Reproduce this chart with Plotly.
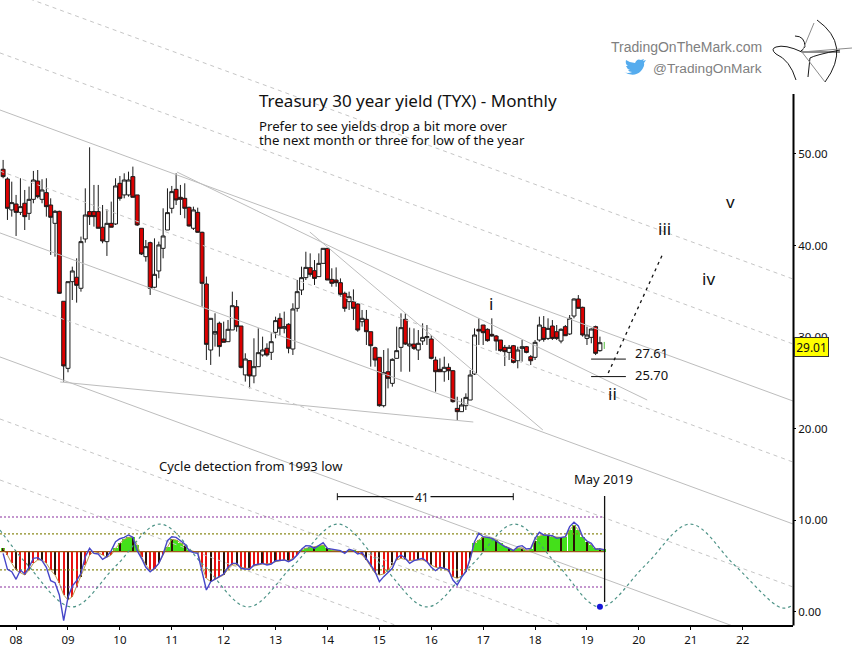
import plotly.graph_objects as go

# monthly candles, Oct 2007 - Apr 2019
opens = [48.33,47.27,43.89,44.54,43.63,44.62,43.52,45.05,47.05,45.05,45.78,44.43,42.43,43.74,33.92,26.60,36.06,36.54,35.34,40.72,
	43.71,43.71,43.71,42.00,40.43,42.43,42.36,46.80,45.53,45.53,47.53,45.53,41.89,38.79,40.32,35.45,37.23,39.70,41.70,44.07,
	46.14,45.27,45.16,44.18,41.89,43.63,41.45,35.81,28.60,30.35,31.52,29.80,29.51,30.79,33.33,31.22,25.88,27.44,25.77,26.78,
	28.06,28.79,28.35,30.53,32.06,30.97,31.41,28.71,33.15,35.15,36.50,37.59,37.26,36.61,38.06,39.70,36.31,36.24,35.95,34.79,
	33.88,33.88,33.62,31.69,31.95,30.60,28.85,27.80,22.52,26.23,24.96,27.69,28.89,31.95,29.04,29.25,28.60,29.58,29.95,29.80,
	27.51,26.49,26.23,26.71,26.34,22.23,21.87,22.52,23.14,25.98,30.86,31.33,30.86,30.31,30.13,29.69,28.89,28.34,29.07,27.43,
	28.78,28.96,27.87,27.80,29.69,31.07,29.87,31.22,30.60,29.58,31.15,30.35,32.31,34.17,33.26,29.87,29.98,31.15,28.53]
highs = [49.35,47.45,46.98,45.53,47.35,46.07,46.44,48.15,48.25,47.24,47.35,45.16,43.89,43.81,33.92,36.06,37.70,38.61,40.98,46.25,
	50.73,46.62,46.62,44.43,43.96,44.80,47.35,47.60,47.89,48.07,48.62,45.53,41.89,40.61,40.43,40.79,40.43,44.07,46.25,46.51,
	47.89,46.62,46.80,44.25,44.25,44.14,41.52,36.61,32.06,32.61,31.70,31.70,31.88,34.97,34.06,31.22,28.24,27.51,29.88,30.97,
	30.06,29.33,30.42,32.24,32.61,32.79,31.52,33.70,36.25,37.70,39.33,39.15,38.42,39.15,39.70,39.70,37.52,37.62,36.42,34.97,
	34.97,35.22,33.69,32.97,32.97,30.60,28.96,27.80,28.60,28.78,27.69,31.15,32.60,32.60,31.04,30.96,30.78,31.51,31.33,30.24,
	27.87,27.69,27.87,27.14,26.42,23.50,23.32,23.87,26.42,30.96,32.06,31.33,30.96,32.06,30.24,29.69,29.15,29.15,29.15,28.96,
	29.69,29.04,28.05,29.69,32.24,32.31,32.06,31.87,31.33,30.96,31.33,32.42,34.24,34.60,33.33,31.15,30.96,31.26,30.06]
lows = [47.35,42.80,43.16,41.05,43.34,41.70,42.80,44.62,45.16,44.62,43.16,38.98,38.79,34.72,25.15,26.17,34.06,33.77,34.97,40.32,
	42.25,42.07,41.89,40.25,38.87,42.00,42.25,44.90,45.16,45.34,45.27,42.14,38.98,38.25,34.61,35.34,36.43,38.61,41.70,43.52,
	44.43,43.34,42.98,42.07,41.70,41.41,33.33,27.51,26.97,28.97,27.88,29.44,29.51,30.79,30.61,26.60,25.15,24.42,24.97,26.78,
	27.88,27.88,27.51,29.88,30.24,30.42,28.24,28.06,32.79,34.60,36.24,36.61,35.70,36.61,38.06,36.24,35.51,35.51,34.42,32.78,
	32.97,31.87,30.60,31.15,29.15,26.78,26.78,22.41,22.34,24.41,24.60,27.69,26.23,29.15,26.23,28.60,27.51,29.15,29.15,27.58,
	24.05,26.23,25.14,25.32,22.85,20.96,21.87,22.05,23.14,25.87,29.15,29.15,29.51,30.06,28.53,28.42,26.85,27.51,27.14,26.60,
	27.33,28.24,26.96,27.51,29.51,29.51,29.69,29.69,29.69,29.33,30.13,30.24,32.06,33.15,30.06,29.15,29.33,28.05,28.42]
closes = [47.53,44.07,44.69,43.63,44.25,43.16,45.05,47.16,45.34,46.07,44.25,43.09,43.74,34.79,26.86,36.06,37.23,35.66,40.43,43.34,
	43.16,43.16,41.89,40.50,42.43,42.00,46.51,45.16,47.16,47.16,45.27,42.25,39.08,39.88,35.34,36.86,40.07,41.05,43.60,45.89,
	44.98,45.05,44.07,42.14,43.89,41.45,35.88,29.22,32.06,30.61,28.97,29.44,30.86,33.44,31.15,26.71,27.62,25.77,26.78,28.31,
	28.60,28.06,29.51,31.81,30.97,31.15,28.79,33.08,34.97,36.50,37.62,36.86,36.42,38.06,39.70,36.24,35.88,35.95,34.68,33.15,
	34.42,33.15,30.78,32.06,30.60,29.07,27.51,22.52,26.12,25.51,27.58,28.53,31.04,29.25,29.25,28.78,29.33,29.98,30.06,27.69,
	26.23,26.23,26.71,26.34,22.96,21.87,22.60,23.43,25.87,30.24,30.67,30.49,29.62,30.13,29.58,28.53,28.42,28.89,27.25,28.60,
	28.96,28.34,27.43,29.44,31.33,29.76,30.96,29.87,29.87,30.86,30.16,32.06,34.17,33.15,30.24,30.24,30.89,28.24,29.40]

# oscillator pane (same scale as the price axis), one value a month up to May 2019
osc_line = [6.40,4.66,4.40,3.57,4.58,4.15,4.88,5.86,5.93,5.60,4.88,3.42,3.20,1.86,-0.95,1.60,2.84,3.42,4.22,6.04,
	6.95,6.40,6.33,5.75,6.04,6.70,7.68,8.00,8.15,8.41,8.15,6.70,5.86,4.88,4.40,4.77,5.31,6.33,7.79,8.22,
	8.15,7.79,7.42,6.70,6.48,6.40,4.22,2.40,3.31,3.57,3.86,4.15,4.88,5.31,5.31,4.77,4.69,4.66,5.13,5.24,
	5.31,5.13,5.24,5.60,5.68,5.68,5.49,5.75,6.22,6.84,7.24,7.20,6.95,7.31,7.57,6.95,6.88,6.84,6.70,6.40,
	6.84,6.70,6.33,6.48,5.86,5.13,4.40,3.31,3.86,4.29,4.77,5.86,6.22,5.86,5.31,5.60,5.75,5.86,5.49,4.88,
	4.51,4.88,4.77,4.58,3.49,2.95,3.78,4.40,5.86,7.68,8.59,8.22,8.15,8.04,7.75,7.42,7.13,6.95,6.70,7.13,
	7.24,6.88,6.95,8.04,8.70,8.41,8.41,8.33,8.04,8.15,8.22,9.32,9.79,9.39,8.22,7.75,7.50,6.84,6.91,6.77]
osc_hist = [6.95,6.22,5.31,4.58,4.29,4.04,4.58,5.31,5.68,5.68,5.31,4.58,4.04,3.13,1.86,1.31,1.67,2.77,3.86,5.13,
	6.22,6.59,6.48,6.22,5.97,6.22,6.95,7.50,7.93,8.15,8.15,7.31,6.04,5.13,4.58,4.66,5.31,6.22,7.13,7.93,
	7.86,7.50,7.24,6.77,6.59,6.48,4.95,3.67,3.31,3.57,3.86,4.04,4.66,5.13,5.13,4.88,4.77,4.77,5.02,5.13,
	5.24,5.24,5.31,5.49,5.60,5.68,5.60,5.86,6.22,6.77,6.95,7.06,7.13,7.24,7.31,6.95,6.77,6.70,6.59,6.48,
	6.66,6.66,6.48,6.22,5.68,4.88,4.22,4.04,4.15,4.58,5.13,5.68,5.86,5.75,5.60,5.68,5.68,5.68,5.49,5.13,
	4.88,4.77,4.77,4.40,3.86,3.67,3.93,4.40,5.68,7.50,7.86,8.15,8.15,8.04,7.86,7.50,7.20,7.02,6.77,6.95,
	7.02,6.70,6.84,7.79,8.30,8.41,8.41,8.22,8.15,8.15,8.15,8.95,9.50,8.95,8.15,7.68,7.31,6.95,6.84,6.84]
hist_zero = 6.59
band_values = [10.37, 8.52, 4.59, 2.73]
band_colors = ["#8a2f9e", "#8a8a1e", "#8a8a1e", "#8a2f9e"]
cycle_x = [2007.69,2008.23,2009.08,2009.93,2010.77,2011.62,2012.47,2013.34,2014.20,2015.05,2015.92,2016.77,2017.61,2018.44,2019.25,2020.12,2020.99,2021.85,2022.75,2022.97]
cycle_y = [8.95,5.08,0.55,5.08,9.60,5.08,0.55,5.08,9.60,5.08,0.55,5.08,9.60,5.08,0.55,5.08,9.60,5.08,0.45,0.76]

# parallel channel, values at the left and right edge of the plot
chan_x = [2007.69, 2022.97]
chan_solid_left = [54.80, 41.38, 27.84]
chan_solid_right = [23.03, 9.61, -3.94]
chan_dash_left = [68.12, 61.03, 48.14, 34.50, 21.07, 14.41]
chan_dash_right = [36.35, 29.26, 16.37, 2.73, -10.70, -17.36]
# other trend lines: x0, y0, x1, y1
trend_lines = [(2011.10,48.03,2020.16,23.14), (2013.66,41.48,2018.15,19.87), (2008.85,25.11,2016.81,20.74)]
targets = [27.61, 25.70]
target_x = [2019.08, 2019.75]
path_x = [2019.41, 2020.45]
path_y = [26.09, 38.97]

year_ticks = list(range(2008, 2023))
year_labels = ["08","09","10","11","12","13","14","15","16","17","18","19","20","21","22"]
price_ticks = [0, 10, 20, 30, 40, 50]

months = [2007.75 + i/12 for i in range(len(osc_line))]
candle_x = months[:len(opens)]
FONT = "Noto Sans"
W_PLOT = 793.0
H_PLOT = 625.0

def px(x):
	return x / W_PLOT

def py(y):
	return 1 - y / H_PLOT

def pixel_path(points):
	# points are (cmd, x, y, ...) in page pixels, converted to paper fractions
	out = []
	for p in points:
		out.append(p[0] + " " + " ".join(
			f"{px(p[k]):.4f} {py(p[k+1]):.4f}" for k in range(1, len(p), 2)))
	return " ".join(out)

fig = go.Figure()

for left, right in zip(chan_dash_left, chan_dash_right):
	fig.add_trace(go.Scatter(x=chan_x, y=[left, right], mode="lines", line=dict(color="#c6c6c6", width=1, dash="4px,4px"), hoverinfo="skip"))
for left, right in zip(chan_solid_left, chan_solid_right):
	fig.add_trace(go.Scatter(x=chan_x, y=[left, right], mode="lines", line=dict(color="#bdbdbd", width=1), hoverinfo="skip"))
for x0, y0, x1, y1 in trend_lines:
	fig.add_trace(go.Scatter(x=[x0, x1], y=[y0, y1], mode="lines", line=dict(color="#bdbdbd", width=1), hoverinfo="skip"))

# histogram: solid green above zero, thinner red stripes below, some dark ones over it
hist_h = [v - hist_zero for v in osc_hist]
fig.add_trace(go.Bar(x=months, y=hist_h, base=hist_zero,
	marker=dict(color=["#44e01a" if h > 0 else "#e81010" for h in hist_h], line_width=0),
	width=[0.083 if h > 0 else 0.04 for h in hist_h], hoverinfo="skip"))
fig.add_trace(go.Bar(x=months[::3], y=hist_h[::3], base=hist_zero,
	marker=dict(color="#2a1208", line_width=0), width=0.025, hoverinfo="skip"))
fig.add_trace(go.Scatter(x=months, y=osc_hist, mode="lines", line=dict(color="#b89a50", width=1), hoverinfo="skip"))

for val, col in zip(band_values, band_colors):
	fig.add_trace(go.Scatter(x=[chan_x[0], months[-1]], y=[val, val], mode="lines", line=dict(color=col, width=1.2, dash="2px,2px"), hoverinfo="skip"))
fig.add_trace(go.Scatter(x=[chan_x[0], months[-1]], y=[hist_zero, hist_zero], mode="lines", line=dict(color="#9c5a18", width=1.4), hoverinfo="skip"))
fig.add_trace(go.Scatter(x=cycle_x, y=cycle_y, mode="lines", line=dict(color="#4f9488", width=1.2, dash="3px,3px", shape="spline", smoothing=1.0), hoverinfo="skip"))
fig.add_trace(go.Scatter(x=months, y=osc_line, mode="lines", line=dict(color="#4646c8", width=1.4), hoverinfo="skip"))

fig.add_trace(go.Candlestick(x=candle_x, open=opens, high=highs, low=lows, close=closes,
	increasing=dict(fillcolor="#ffffff", line=dict(color="#1a1a1a", width=1)),
	decreasing=dict(fillcolor="#dc0000", line=dict(color="#1a1a1a", width=1)),
	whiskerwidth=0, hoverinfo="skip"))
fig.add_trace(go.Scatter(x=[months[-1]], y=[29.1], mode="markers", marker=dict(symbol="line-ns", size=5, line=dict(color="#55c040", width=1)), hoverinfo="skip"))

for val in targets:
	fig.add_trace(go.Scatter(x=target_x, y=[val, val], mode="lines", line=dict(color="#111111", width=1), hoverinfo="skip"))
fig.add_trace(go.Scatter(x=path_x, y=path_y, mode="lines", line=dict(color="#111111", width=1.3, dash="3px,4px"), hoverinfo="skip"))

# May 2019 marker and the 41 bar cycle span
fig.add_trace(go.Scatter(x=[2019.34, 2019.34], y=[12.66, 1.09], mode="lines", line=dict(color="#111111", width=1.3), hoverinfo="skip"))
fig.add_trace(go.Scatter(x=[2019.25], y=[0.58], mode="markers", marker=dict(color="#1616d8", size=6), hoverinfo="skip"))
fig.add_trace(go.Scatter(x=[2014.19, 2017.58], y=[12.59, 12.59], mode="lines+markers", line=dict(color="#111111", width=1.2),
	marker=dict(symbol="line-ns", size=5, line=dict(color="#111111", width=1)), hoverinfo="skip"))

def label(text, x, y, size=13, anchor="center", color="#111111", family=FONT, **kw):
	fig.add_annotation(text=text, x=px(x), y=py(y), xref="paper", yref="paper", xanchor=anchor, yanchor="middle",
		showarrow=False, font=dict(family=family, size=size, color=color), **kw)

label("Treasury 30 year yield (TYX) - Monthly", 257, 100, size=17, anchor="left")
label("Prefer to see yields drop a bit more over", 257, 126, size=13.2, anchor="left")
label("the next month or three for low of the year", 257, 140, size=13.2, anchor="left")
label("Cycle detection from 1993 low", 157, 466, size=13, anchor="left")
label("May 2019", 603, 479, size=13)
label("41", 422, 497, size=12, bgcolor="#ffffff")
label("i", 491, 304, size=17)
label("ii", 612, 393, size=17)
label("iii", 664, 228, size=17)
label("iv", 708, 278, size=17)
label("v", 730, 202, size=17)
label("27.61", 633, 353, size=13, anchor="left")
label("25.70", 633, 375, size=13, anchor="left")
label("29.01", 811, 347, size=12, bgcolor="#ffff00", bordercolor="#333333", borderwidth=1, borderpad=0, width=33, height=18)
label("TradingOnTheMark.com", 764, 47, size=14, anchor="right", color="#7f7f7f", family="Liberation Sans")
label("@TradingOnMark", 764, 68, size=13.7, anchor="right", color="#7f7f7f", family="Liberation Sans")

# axis line stops below the top of the page, so it is a shape and not the y axis line
paper = dict(xref="paper", yref="paper")
shapes = [dict(type="line", x0=px(793.5), x1=px(793.5), y0=py(94), y1=py(625.5), line=dict(color="#000000", width=2), **paper)]

bird = [("M",624,72),("Q",634,78,641,71),("Q",645,66,644,63),("L",646,60),("L",643,61),("L",644,59),("L",641,60),("Q",637,58,635,63),
	("Q",630,63,626,60),("Q",625,64,628,66),("L",626,66),("Q",627,69,630,70),("L",628,70),("Q",629,72,632,72),("Q",628,74,624,72)]
shapes.append(dict(type="path", path=pixel_path(bird) + " Z", fillcolor="#55acee", line=dict(width=0), **paper))

logo_black = [[("M",817,20),("Q",852,45,825,82)],
	[("M",795,36),("Q",805,36,805,47),("L",800,52)],
	[("M",802,52),("Q",785,44,776,47),("Q",770,49,776,54),("Q",790,60,796,80)],
	[("M",840,50),("Q",815,55,810,58),("L",808,77)],
	[("M",802,52),("L",840,52)]]
logo_grey = [[("M",802,52),("L",852,48)], [("M",814,23),("L",802,52),("L",825,82)]]
for line in logo_black:
	shapes.append(dict(type="path", path=pixel_path(line), line=dict(color="#1a1a1a", width=1), **paper))
for line in logo_grey:
	shapes.append(dict(type="path", path=pixel_path(line), line=dict(color="#8c8c8c", width=1), **paper))

fig.update_layout(
	width=864, height=662,
	margin=dict(l=0, r=71, t=0, b=37),
	paper_bgcolor="#ffffff", plot_bgcolor="#ffffff",
	showlegend=False, barmode="overlay", bargap=0, boxgap=0.05, boxgroupgap=0.05,
	font=dict(family=FONT, size=13, color="#111111"),
	shapes=shapes,
	xaxis=dict(range=[2007.69, 2022.97], tickmode="array", tickvals=year_ticks, ticktext=year_labels,
		showgrid=False, zeroline=False, showline=True, linecolor="#000000", linewidth=2,
		ticks="outside", ticklen=3, tickcolor="#000000", tickangle=0, rangeslider=dict(visible=False),
		tickfont=dict(family=FONT, size=11.5)),
	yaxis=dict(range=[-1.42, 66.81], side="right", tickmode="array", tickvals=price_ticks, tickformat=".2f",
		showgrid=False, zeroline=False, showline=False, ticks="outside", ticklen=2, tickcolor="#000000",
		tickfont=dict(family=FONT, size=11.5)),
)

fig.write_html("out.html", config=dict(displayModeBar=False), post_script="document.body.style.margin='0';")
